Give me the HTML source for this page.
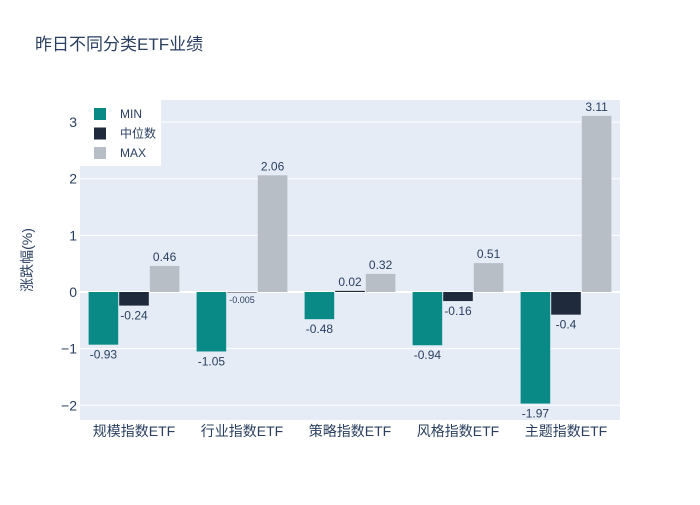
<!DOCTYPE html>
<html><head><meta charset="utf-8"><style>
body{margin:0;background:#fff;}
svg text{font-family:"Liberation Sans","Noto Sans CJK SC",sans-serif;}
</style></head><body>
<svg id="chart" width="700" height="500">
<rect x="0" y="0" width="700" height="500" fill="#fff"/>
<text x="35" y="50" font-size="17" fill="#2a3f5f">昨日不同分类ETF业绩</text>
<rect x="80" y="100" width="540" height="320" fill="#e5ecf6"/>
<g id="grid"></g><g id="bars"></g><g id="labels"></g>
<text transform="translate(32,260) rotate(-90)" text-anchor="middle" font-size="14" fill="#2a3f5f">涨跌幅(%)</text>
<g id="legend">
<rect x="80" y="100" width="81" height="66" fill="#fff"/>
</g>
</svg>
<script>
const categories=["规模指数ETF","行业指数ETF","策略指数ETF","风格指数ETF","主题指数ETF"];
const seriesNames=["MIN","中位数","MAX"];
const minVals=[-0.93,-1.05,-0.48,-0.94,-1.97];
const medVals=[-0.24,-0.005,0.02,-0.16,-0.4];
const maxVals=[0.46,2.06,0.32,0.51,3.11];
const yTicks=[-2,-1,0,1,2,3];
const colors=["#0a8a87","#1f2a3c","#b8bec6"];
const ns="http://www.w3.org/2000/svg";
const X0=80,W=540,Y0=100,H=320,yMin=-2.26,yMax=3.39;
const y=v=>Y0+(yMax-v)/(yMax-yMin)*H;
const band=W/categories.length, bw=band*0.85/3;
const cx=i=>X0+band*(i+0.5);
function mk(t,a,p){const e=document.createElementNS(ns,t);for(const k in a)e.setAttribute(k,a[k]);p.appendChild(e);return e;}
const grid=document.getElementById('grid'),bars=document.getElementById('bars'),labels=document.getElementById('labels'),legend=document.getElementById('legend');
yTicks.forEach(t=>{
 const l=mk('line',{x1:X0,x2:X0+W,y1:y(t),y2:y(t),stroke:'#fff','stroke-width':t===0?2:1},grid);
 
 
 const tx=mk('text',{x:X0-3,y:y(t)+5,'text-anchor':'end','font-size':14,fill:'#2a3f5f'},grid);
 tx.textContent=t<0?'\u2212'+Math.abs(t):t;
 
 
});
categories.forEach((c,i)=>{
 const tx=mk('text',{x:cx(i),y:436,'text-anchor':'middle','font-size':14,fill:'#2a3f5f'},grid);
 tx.textContent=c;
 
 
});
[minVals,medVals,maxVals].forEach((vals,s)=>{
 vals.forEach((v,i)=>{
  const x=cx(i)-1.5*bw+s*bw;
  const top=Math.min(y(v),y(0)),h=Math.abs(y(v)-y(0));
  const r=mk('rect',{x:x+0.5,y:top,width:bw-1,height:Math.max(h,0.5),fill:colors[s]},bars);
  
  
  const small=Math.abs(v)<0.01;
  const tx=mk('text',{x:x+bw/2,y:v>=0?y(v)-5:y(v)+14,'text-anchor':'middle','font-size':small?9:12,fill:'#2a3f5f'},labels);
  if(small){tx.setAttribute('y',y(0)+11);}
  tx.textContent=v;
  
  
 });
});
seriesNames.forEach((n,s)=>{
 const yy=114+s*19.5;
 const r=mk('rect',{x:94,y:yy-6,width:12,height:12,fill:colors[s]},legend);
 
 
 const tx=mk('text',{x:120,y:yy+4,'font-size':12,fill:'#2a3f5f'},legend);
 tx.textContent=n;
 
 
});
</script>
</body></html>
